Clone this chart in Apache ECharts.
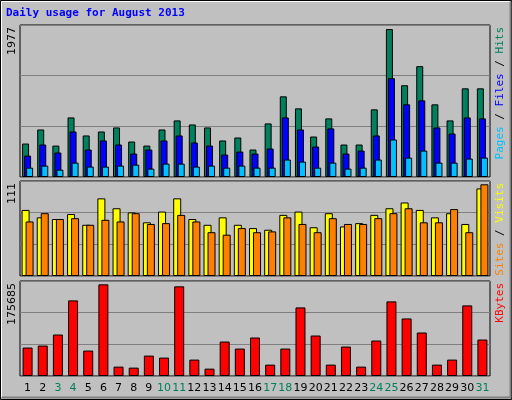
<!DOCTYPE html>
<html><head><meta charset="utf-8">
<script src="https://cdn.jsdelivr.net/npm/echarts@6/dist/echarts.min.js"></script>
<style>html,body{margin:0;padding:0;background:#c0c0c0}#c{width:512px;height:400px}</style>
</head><body><div id="c"></div>
<script>
const days = Array.from({length:31},(_,i)=>String(i+1));
const weekend = ['3','4','10','11','17','18','24','25','31'];
const hits = [447,635,420,796,555,608,662,474,420,635,756,702,662,488,528,367,716,1078,917,541,783,434,434,904,1977,1226,1481,971,756,1185,1185];
const files = [286,434,327,608,367,488,434,313,367,488,555,461,420,300,340,313,380,796,635,407,649,313,353,555,1320,971,1024,662,581,796,783];
const pages = [125,152,98,192,139,139,152,165,112,179,179,139,152,125,152,125,125,233,206,125,192,112,125,233,501,259,353,192,192,246,259];
const visits = [80,71,69,75,62,94,82,77,65,78,94,69,62,71,62,58,56,74,78,59,76,60,64,74,82,89,80,71,76,63,106];
const sites = [66,76,69,70,62,68,66,76,63,64,74,66,53,50,58,53,54,71,63,53,70,63,63,70,76,82,65,65,81,53,111];
const kbytes = [54502,58349,79509,144911,48731,175685,17954,16030,39113,35266,171838,31419,14106,66044,52578,73738,21801,52578,131446,77585,21801,56426,17954,67967,142988,110286,83356,21801,31419,135293,69891];
const maxLabels = ['1977','111','175685'];

const chart = echarts.init(document.getElementById('c'));
const grids = [{left:20,right:22,top:25,height:152},{left:20,right:22,top:181,height:95},{left:20,right:22,top:281,height:95}];
const maxes = [2031,115,182097];
const bs = {borderColor:'#000',borderWidth:1};
function xa(i){return {type:'category',gridIndex:i,data:days,axisLine:{show:false},axisTick:{show:false},
  axisLabel:{show:i===2,fontFamily:'DejaVu Sans',fontSize:11,margin:7,interval:0,
   formatter:v=>weekend.includes(v)?'{w|'+v+'}':'{n|'+v+'}',
   rich:{w:{color:'#00805c',fontSize:11,fontFamily:'DejaVu Sans'},n:{color:'#000',fontSize:11,fontFamily:'DejaVu Sans'}}}};}
function ya(i){return {type:'value',gridIndex:i,min:0,max:maxes[i],interval:maxes[i]/3,axisLabel:{show:false},axisLine:{show:false},axisTick:{show:false},
  splitLine:{show:true,lineStyle:{color:'#808080',width:1}}};}
const F = '11px "DejaVu Sans Mono"';
function vt(x,y,style){return {type:'text',x:x,y:y,rotation:Math.PI/2,style:Object.assign({align:'right',verticalAlign:'middle'},style)};}
chart.setOption({
  animation:false,backgroundColor:'#c0c0c0',
  grid:grids.map(g=>Object.assign({show:true,borderColor:'#000',borderWidth:1,backgroundColor:'#c0c0c0'},g)),
  xAxis:[xa(0),xa(1),xa(2)],yAxis:[ya(0),ya(1),ya(2)],
  series:[
    {type:'bar',xAxisIndex:0,yAxisIndex:0,data:hits,barWidth:7,barGap:'-71%',itemStyle:Object.assign({color:'#00805c'},bs)},
    {type:'bar',xAxisIndex:0,yAxisIndex:0,data:files,barWidth:7,barGap:'-71%',itemStyle:Object.assign({color:'#0000ff'},bs)},
    {type:'bar',xAxisIndex:0,yAxisIndex:0,data:pages,barWidth:7,barGap:'-71%',itemStyle:Object.assign({color:'#00c0ff'},bs)},
    {type:'bar',xAxisIndex:1,yAxisIndex:1,data:visits,barWidth:8,barGap:'-50%',itemStyle:Object.assign({color:'#ffff00'},bs)},
    {type:'bar',xAxisIndex:1,yAxisIndex:1,data:sites,barWidth:8,barGap:'-50%',itemStyle:Object.assign({color:'#ff8000'},bs)},
    {type:'bar',xAxisIndex:2,yAxisIndex:2,data:kbytes,barWidth:10,itemStyle:Object.assign({color:'#ff0000'},bs)}
  ],
  graphic:[
    {type:'rect',shape:{x:0.5,y:0.5,width:511,height:399},style:{fill:'none',stroke:'#000',lineWidth:1},z:100},
    {type:'polyline',shape:{points:[[1.5,398],[1.5,1.5],[510,1.5]]},style:{stroke:'#fff',fill:'none',lineWidth:1},z:100},
    {type:'polyline',shape:{points:[[1.5,397.5],[510.5,397.5],[510.5,1.5]]},style:{stroke:'#808080',fill:'none',lineWidth:2},z:100},
    {type:'text',x:6,y:13,style:{text:'Daily usage for August 2013',fill:'#0000ff',font:'bold 11px "DejaVu Sans Mono"',verticalAlign:'middle'}},
    vt(12,27,{text:maxLabels[0],fill:'#000',font:'11px "DejaVu Sans"'}),
    vt(12,183,{text:maxLabels[1],fill:'#000',font:'11px "DejaVu Sans"'}),
    vt(12,283,{text:maxLabels[2],fill:'#000',font:'11px "DejaVu Sans"'}),
    vt(500,27,{rich:{h:{fill:'#00805c',font:F},f:{fill:'#0000ff',font:F},p:{fill:'#00c0ff',font:F},s:{fill:'#000',font:F}},
      text:'{p|Pages}{s| / }{f|Files}{s| / }{h|Hits}'}),
    vt(500,183,{rich:{v:{fill:'#ffff00',font:F},o:{fill:'#ff8000',font:F},s:{fill:'#000',font:F}},
      text:'{o|Sites}{s| / }{v|Visits}'}),
    vt(500,283,{text:'KBytes',fill:'#ff0000',font:F})
  ]
});
</script></body></html>
